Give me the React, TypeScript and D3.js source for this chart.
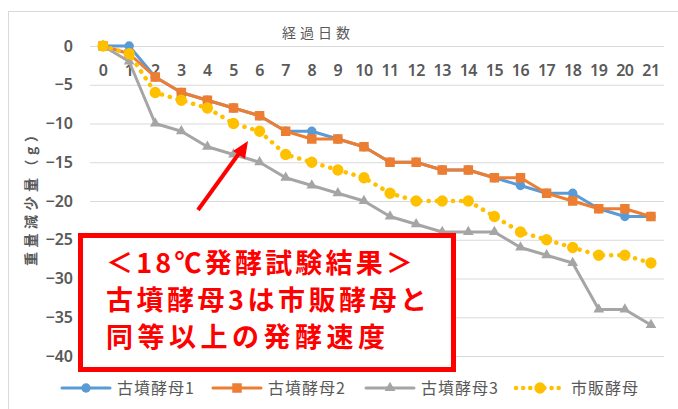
import { useEffect, useRef } from "react";
import * as d3 from "d3";

// 経過日数
const days = ["0", "1", "2", "3", "4", "5", "6", "7", "8", "9", "10", "11", "12", "13", "14", "15", "16", "17", "18", "19", "20", "21"];
const yTicks = [0, -5, -10, -15, -20, -25, -30, -35, -40];

const kofun1 = [0, 0, -4, -6, -7, -8, -9, -11, -11, -12, -13, -15, -15, -16, -16, -17, -18, -19, -19, -21, -22, -22];
const kofun2 = [0, -1, -4, -6, -7, -8, -9, -11, -12, -12, -13, -15, -15, -16, -16, -17, -17, -19, -20, -21, -21, -22];
const kofun3 = [0, -2, -10, -11, -13, -14, -15, -17, -18, -19, -20, -22, -23, -24, -24, -24, -26, -27, -28, -34, -34, -36];
const shihan = [0, -1, -6, -7, -8, -10, -11, -14, -15, -16, -17, -19, -20, -20, -20, -22, -24, -25, -26, -27, -27, -28];

const seriesNames = ["古墳酵母1", "古墳酵母2", "古墳酵母3", "市販酵母"];

const jp = "'Noto Sans CJK JP', 'Noto Sans', sans-serif";
const grayText = "#595959";

const App = () => {
  const ref = useRef(null);

  useEffect(() => {
    const width = 678;
    const height = 409;
    d3.select(ref.current).selectAll("*").remove();

    const svg = d3
      .select(ref.current)
      .append("svg")
      .attr("width", width)
      .attr("height", height)
      .style("display", "block")
      .style("background", "#fff");

    // 外枠
    svg
      .append("rect")
      .attr("x", 8.5)
      .attr("y", 11.5)
      .attr("width", 700)
      .attr("height", 420)
      .attr("fill", "#fff")
      .attr("stroke", "#d9d9d9");

    const x = d3.scaleBand().domain(days).range([90, 664]);
    const cx = (d: string) => (x(d) as number) + x.bandwidth() / 2;
    const y = d3.scaleLinear().domain([-40, 0]).range([356, 46]);

    // グリッド
    svg
      .append("g")
      .selectAll("line")
      .data(yTicks)
      .join("line")
      .attr("x1", 90)
      .attr("x2", 664)
      .attr("y1", (d) => y(d) + 0.5)
      .attr("y2", (d) => y(d) + 0.5)
      .attr("stroke", "#d9d9d9")
      .attr("stroke-width", 1.2);

    // Y軸ラベル
    const yAxis = svg
      .append("g")
      .attr("transform", "translate(90,0)")
      .call(d3.axisLeft(y).tickValues(yTicks).tickSize(0).tickPadding(17).tickFormat(d3.format("d")));
    yAxis.select(".domain").remove();
    yAxis
      .selectAll("text")
      .attr("font-family", "'Noto Sans', sans-serif")
      .attr("font-size", 16)
      .attr("font-weight", 600)
      .attr("fill", grayText);

    // X軸ラベル
    const xAxis = svg
      .append("g")
      .attr("transform", `translate(0,${y(0)})`)
      .call(d3.axisBottom(x).tickSize(0).tickPadding(19));
    xAxis.select(".domain").remove();
    xAxis
      .selectAll("text")
      .attr("font-family", "'Noto Sans', sans-serif")
      .attr("font-size", 16)
      .attr("font-weight", 600)
      .attr("letter-spacing", -0.5)
      .attr("fill", grayText);

    // 軸タイトル
    svg
      .append("text")
      .attr("x", 282)
      .attr("y", 38)
      .attr("font-family", jp)
      .attr("font-size", 14)
      .attr("textLength", 68)
      .attr("fill", grayText)
      .text("経過日数");

    svg
      .append("text")
      .attr("transform", "translate(36,266) rotate(-90)")
      .attr("font-family", jp)
      .attr("font-size", 14)
      .attr("font-weight", 700)
      .attr("textLength", 138)
      .attr("fill", grayText)
      .text("重量減少量（g）");

    const series = [
      { name: seriesNames[0], values: kofun1, color: "#5b9bd5", symbol: d3.symbolCircle, size: 70, dash: null },
      { name: seriesNames[1], values: kofun2, color: "#ed7d31", symbol: d3.symbolSquare, size: 90, dash: null },
      { name: seriesNames[2], values: kofun3, color: "#a5a5a5", symbol: d3.symbolTriangle, size: 50, dash: null },
      { name: seriesNames[3], values: shihan, color: "#ffc000", symbol: d3.symbolCircle, size: 100, dash: "0.1 8" },
    ];

    const line = d3
      .line<number>()
      .x((_, i) => cx(days[i]))
      .y((d) => y(d));

    series.forEach((s) => {
      const g = svg.append("g");
      g.append("path")
        .attr("d", line(s.values))
        .attr("fill", "none")
        .attr("stroke", s.color)
        .attr("stroke-width", s.dash ? 4.5 : 3)
        .attr("stroke-linecap", "round")
        .attr("stroke-linejoin", "round")
        .attr("stroke-dasharray", s.dash);
      g.selectAll("path.m")
        .data(s.values)
        .join("path")
        .attr("class", "m")
        .attr("transform", (d, i) => `translate(${cx(days[i])},${y(d)})`)
        .attr("d", d3.symbol(s.symbol, s.size))
        .attr("fill", s.color);
    });

    // 凡例
    const legendX = [62, 213, 366, 516];
    const legendY = 388;
    series.forEach((s, i) => {
      const lg = svg.append("g").attr("transform", `translate(${legendX[i]},${legendY})`);
      lg.append("line")
        .attr("x1", 0)
        .attr("x2", 48)
        .attr("stroke", s.color)
        .attr("stroke-width", s.dash ? 4.5 : 3)
        .attr("stroke-linecap", "round")
        .attr("stroke-dasharray", s.dash ? "0.1 7" : null);
      lg.append("path")
        .attr("transform", "translate(24,0)")
        .attr("d", d3.symbol(s.symbol, s.size))
        .attr("fill", s.color);
      lg.append("text")
        .attr("x", 55)
        .attr("y", 6)
        .attr("font-family", jp)
        .attr("font-size", 16)
        .attr("letter-spacing", 1)
        .attr("fill", grayText)
        .text(s.name);
    });

    // 矢印
    const arrow = svg.append("g").attr("fill", "#ff0000").attr("stroke", "#ff0000");
    arrow.append("line").attr("x1", 198).attr("y1", 210).attr("x2", 240).attr("y2", 152).attr("stroke-width", 4);
    arrow
      .append("polygon")
      .attr("points", "248,141 233,151 245,159")
      .attr("stroke", "none");

    // 注記ボックス
    svg
      .append("rect")
      .attr("x", 80.5)
      .attr("y", 235.5)
      .attr("width", 373)
      .attr("height", 134)
      .attr("fill", "#fff")
      .attr("stroke", "#ff0000")
      .attr("stroke-width", 5);

    const notes = [
      { text: "＜18℃発酵試験結果＞", y: 273, w: 307 },
      { text: "古墳酵母3は市販酵母と", y: 310, w: 321 },
      { text: "同等以上の発酵速度", y: 347, w: 279 },
    ];
    svg
      .append("g")
      .selectAll("text")
      .data(notes)
      .join("text")
      .attr("x", 106)
      .attr("y", (d) => d.y)
      .attr("textLength", (d) => d.w)
      .attr("font-family", jp)
      .attr("font-size", 27)
      .attr("font-weight", 700)
      .attr("fill", "#ff0000")
      .text((d) => d.text);
  }, []);

  return <div ref={ref} style={{ position: "absolute", left: 0, top: 0 }} />;
};

export default App;
